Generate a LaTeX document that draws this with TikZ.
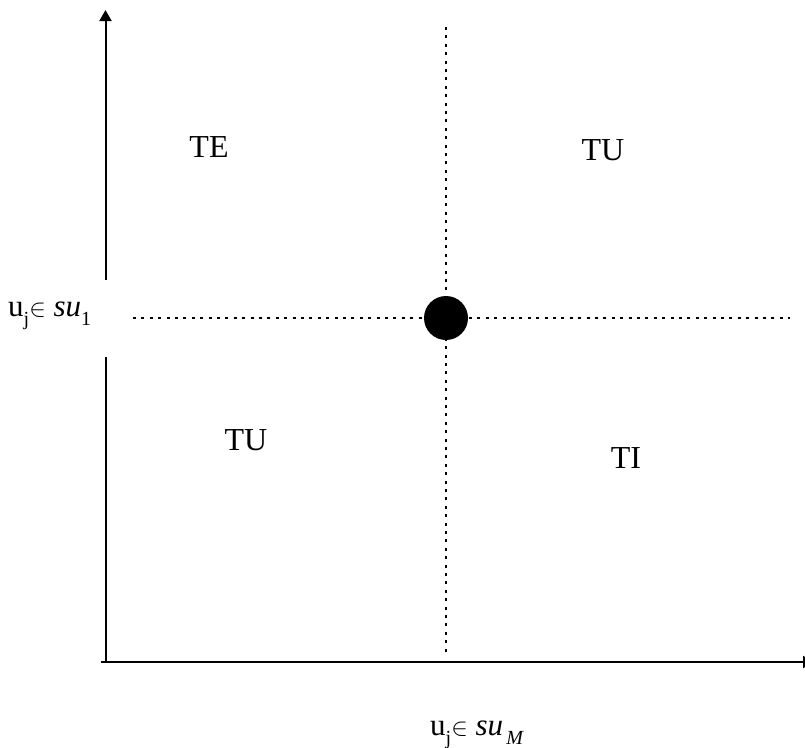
\documentclass[tikz,border=0pt]{standalone}
\usepackage{fontspec}
\setmainfont{Liberation Serif}
\usetikzlibrary{arrows.meta}
\tikzset{
  axisline/.style={line width=2pt, black},
  dotline/.style={line width=2.6pt, dash pattern=on 3pt off 5.4pt, black},
  region/.style={inner sep=0pt, font=\fontsize{32}{36}\selectfont},
  axlabel/.style={inner sep=0pt, anchor=base west, font=\fontsize{31}{36}\selectfont},
  tip/.style={-{Triangle[length=11pt,width=12pt]}}
}
\newcommand{\lowsub}[1]{\raisebox{-0.3em}{\fontsize{20}{22}\selectfont #1}}
\begin{document}
\begin{tikzpicture}[x=1pt,y=-1pt]
\useasboundingbox (0,0) rectangle (805,747);
% coordinates
\coordinate (origin) at (105.5,662);
\coordinate (xstart) at (101,662);
\coordinate (xend) at (814,662);
\coordinate (ytop) at (105.5,10);
\coordinate (ygapTop) at (105.5,280);
\coordinate (ygapBot) at (105.5,357);
\coordinate (vtop) at (446,27);
\coordinate (vbot) at (446,655);
\coordinate (hleft) at (133,318);
\coordinate (hright) at (790,318);
% dotted guides
\draw[dotline] (vtop) -- (vbot);
\draw[dotline] (hleft) -- (hright);
% point
\node[circle, fill=black, minimum size=44pt, inner sep=0pt] (pt) at (446,318) {};
% axes
\draw[axisline, tip] (xstart) -- (xend);
\draw[axisline] (origin) -- (ygapBot);
\draw[axisline, tip] (ygapTop) -- (ytop);
% region labels
\node[region] (te) at (209,147) {TE};
\node[region] (tu1) at (603,150) {TU};
\node[region] (tu2) at (246,440) {TU};
\node[region] (ti) at (626,458) {TI};
% axis labels
\node[axlabel] (ylab) at (8,316) {u\lowsub{j}$\in$ \textit{su}\lowsub{1}};
\node[axlabel] (xlab) at (430,735) {u\lowsub{j}$\in$ \textit{su}\lowsub{\,\textit{M}}};
\end{tikzpicture}
\end{document}
